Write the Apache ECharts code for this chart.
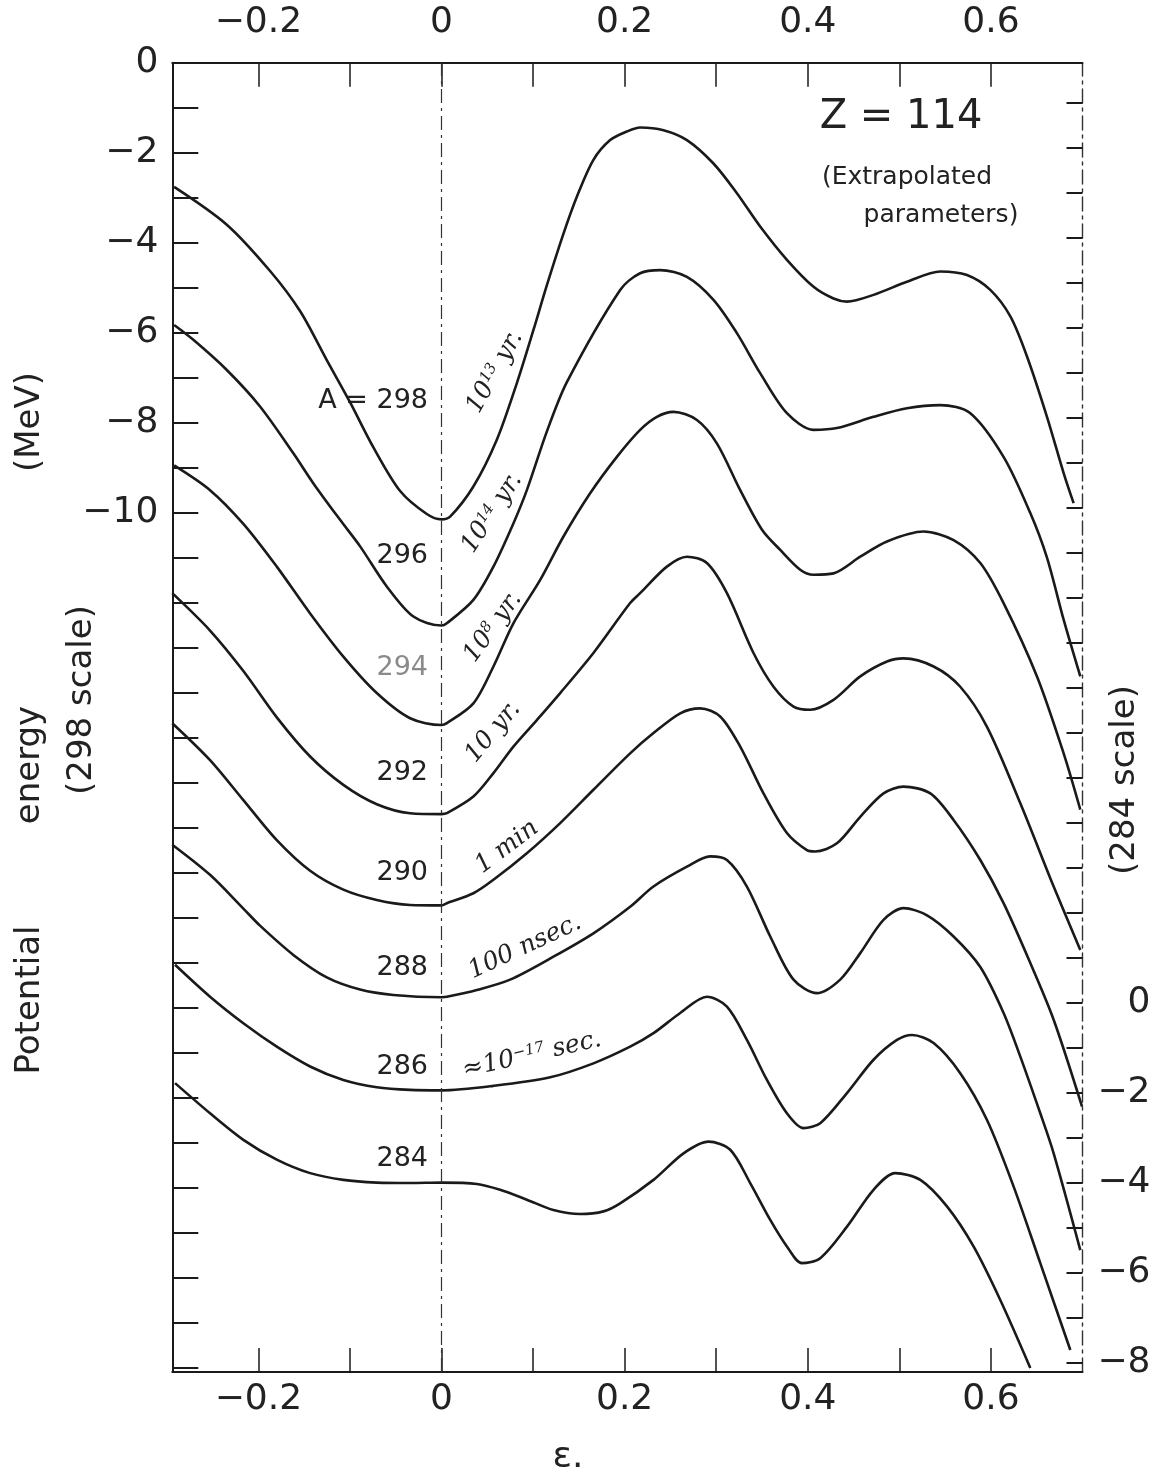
<!DOCTYPE html>
<html>
<head>
<meta charset="utf-8">
<title>Z = 114 potential energy curves</title>
<script src="https://cdn.jsdelivr.net/npm/echarts@6/dist/echarts.min.js"></script>
<style>
html, body { margin: 0; padding: 0; background: #fff; }
#chart { width: 1154px; height: 1476px; }
</style>
</head>
<body>
<div id="chart"></div>
<script>
// [epsilon, potential energy in MeV on the 298 scale]
const curve298 = [[-0.292,-2.76],[-0.2345,-3.60],[-0.1872,-4.63],[-0.1545,-5.52],[-0.1253,-6.61],[-0.0998,-7.55],[-0.0744,-8.55],[-0.0452,-9.52],[-0.0161,-10.03],[0,-10.15],[0.0094,-10.09],[0.0348,-9.42],[0.0604,-8.38],[0.0823,-7.12],[0.1004,-5.94],[0.115,-4.95],[0.1332,-3.80],[0.1478,-2.98],[0.1659,-2.16],[0.1842,-1.72],[0.2024,-1.53],[0.2169,-1.44],[0.2424,-1.50],[0.268,-1.72],[0.297,-2.24],[0.3226,-2.90],[0.348,-3.64],[0.3772,-4.38],[0.4063,-4.98],[0.4281,-5.24],[0.4428,-5.31],[0.4718,-5.16],[0.5083,-4.87],[0.5447,-4.64],[0.5738,-4.72],[0.5993,-5.05],[0.6212,-5.64],[0.6394,-6.53],[0.6612,-7.87],[0.6794,-9.12],[0.6903,-9.79]];
const curve296 = [[-0.292,-5.83],[-0.271,-6.16],[-0.2345,-6.83],[-0.1982,-7.64],[-0.1618,-8.68],[-0.1399,-9.35],[-0.1108,-10.16],[-0.0889,-10.75],[-0.0598,-11.64],[-0.0307,-12.31],[0,-12.51],[0.0058,-12.46],[0.0348,-11.94],[0.0567,-11.20],[0.0785,-10.24],[0.0932,-9.50],[0.115,-8.20],[0.1369,-7.10],[0.1951,-5.05],[0.2169,-4.68],[0.2388,-4.61],[0.268,-4.76],[0.297,-5.27],[0.3226,-6.01],[0.348,-6.90],[0.3772,-7.79],[0.4063,-8.16],[0.4318,-8.12],[0.4718,-7.87],[0.5083,-7.68],[0.5447,-7.61],[0.5775,-7.79],[0.6138,-8.76],[0.643,-10.01],[0.6612,-11.00],[0.6794,-12.38],[0.6976,-13.64]];
const curve294 = [[-0.292,-8.95],[-0.2528,-9.50],[-0.2164,-10.25],[-0.1799,-11.20],[-0.1435,-12.24],[-0.1072,-13.20],[-0.0707,-14.01],[-0.0343,-14.57],[0,-14.72],[0.0058,-14.68],[0.0348,-14.24],[0.0567,-13.42],[0.0785,-12.46],[0.1076,-11.50],[0.1332,-10.53],[0.1623,-9.57],[0.1915,-8.76],[0.2169,-8.16],[0.2352,-7.87],[0.2533,-7.76],[0.2789,-7.94],[0.3007,-8.46],[0.3262,-9.50],[0.35,-10.38],[0.3699,-10.83],[0.3917,-11.27],[0.4063,-11.38],[0.4281,-11.35],[0.4573,-10.98],[0.4865,-10.64],[0.5264,-10.42],[0.5592,-10.61],[0.5884,-11.12],[0.6138,-12.01],[0.6503,-13.64],[0.6794,-15.35],[0.6976,-16.60]];
const curve292 = [[-0.294,-11.79],[-0.2528,-12.62],[-0.2164,-13.52],[-0.1799,-14.55],[-0.1435,-15.42],[-0.1072,-16.05],[-0.0707,-16.48],[-0.0343,-16.68],[0,-16.70],[0.0058,-16.68],[0.0348,-16.31],[0.0567,-15.79],[0.0785,-15.20],[0.1041,-14.61],[0.1296,-14.01],[0.1659,-13.12],[0.206,-12.01],[0.2169,-11.79],[0.2461,-11.20],[0.268,-10.98],[0.2898,-11.12],[0.3117,-11.79],[0.3407,-13.12],[0.3626,-13.87],[0.3844,-14.31],[0.4027,-14.38],[0.4281,-14.16],[0.4573,-13.64],[0.4865,-13.31],[0.5046,-13.24],[0.5374,-13.42],[0.5665,-13.87],[0.5957,-14.76],[0.6321,-16.46],[0.6685,-18.31],[0.6976,-19.72]];
const curve290 = [[-0.294,-14.68],[-0.2528,-15.50],[-0.2164,-16.39],[-0.1799,-17.28],[-0.1435,-17.96],[-0.1072,-18.38],[-0.0707,-18.61],[-0.0343,-18.72],[0,-18.73],[0.0058,-18.68],[0.0348,-18.46],[0.0567,-18.16],[0.0932,-17.57],[0.1296,-16.90],[0.1659,-16.16],[0.206,-15.35],[0.2315,-14.90],[0.2607,-14.46],[0.2825,-14.35],[0.3043,-14.53],[0.3262,-15.20],[0.3516,-16.24],[0.3772,-17.12],[0.399,-17.50],[0.4081,-17.53],[0.4318,-17.35],[0.4573,-16.76],[0.4827,-16.24],[0.5046,-16.09],[0.5338,-16.24],[0.5592,-16.83],[0.5884,-17.72],[0.6138,-18.68],[0.643,-20.01],[0.6685,-21.27],[0.6995,-23.20]];
const curve288 = [[-0.294,-17.38],[-0.2528,-18.05],[-0.2164,-18.80],[-0.1982,-19.18],[-0.1618,-19.83],[-0.1253,-20.33],[-0.0889,-20.60],[-0.0525,-20.72],[0,-20.77],[0.0058,-20.76],[0.0386,-20.61],[0.0749,-20.38],[0.1222,-19.87],[0.1659,-19.35],[0.206,-18.76],[0.2315,-18.31],[0.268,-17.87],[0.2934,-17.64],[0.3117,-17.72],[0.3335,-18.31],[0.359,-19.42],[0.3844,-20.38],[0.41,-20.68],[0.4354,-20.38],[0.4573,-19.79],[0.4827,-19.05],[0.5046,-18.79],[0.5302,-18.95],[0.5592,-19.42],[0.5884,-20.10],[0.6138,-21.12],[0.6321,-22.09],[0.6539,-23.35],[0.6685,-24.24],[0.6976,-26.39]];
const curve286 = [[-0.291,-20.05],[-0.2528,-20.76],[-0.2164,-21.35],[-0.1799,-21.87],[-0.1435,-22.31],[-0.1072,-22.61],[-0.0707,-22.77],[-0.0343,-22.83],[0,-22.84],[0.0567,-22.74],[0.1187,-22.55],[0.1659,-22.24],[0.206,-21.87],[0.2315,-21.57],[0.2607,-21.12],[0.2898,-20.76],[0.3117,-20.98],[0.3335,-21.72],[0.3554,-22.61],[0.3772,-23.35],[0.3953,-23.68],[0.4136,-23.57],[0.4428,-22.90],[0.4718,-22.16],[0.4974,-21.72],[0.5138,-21.61],[0.5374,-21.79],[0.5665,-22.46],[0.5957,-23.50],[0.6248,-24.98],[0.6539,-26.68],[0.6867,-28.61]];
const curve284 = [[-0.291,-22.68],[-0.2528,-23.35],[-0.2164,-23.94],[-0.1799,-24.38],[-0.1435,-24.68],[-0.1072,-24.83],[-0.0707,-24.89],[-0.0343,-24.90],[0,-24.89],[0.0386,-24.92],[0.064,-25.05],[0.0932,-25.27],[0.1222,-25.50],[0.1514,-25.59],[0.1769,-25.53],[0.1951,-25.35],[0.2315,-24.83],[0.2643,-24.24],[0.2916,-23.98],[0.3153,-24.16],[0.3371,-24.90],[0.359,-25.72],[0.3772,-26.31],[0.3936,-26.68],[0.4136,-26.57],[0.4428,-25.87],[0.4718,-25.05],[0.4955,-24.68],[0.5229,-24.83],[0.552,-25.42],[0.581,-26.31],[0.6102,-27.50],[0.643,-29.01]];

const massNumbers = ['A = 298', '296', '294', '292', '290', '288', '286', '284'];
const curves = [curve298, curve296, curve294, curve292, curve290, curve288, curve286, curve284];
const halfLives = ['10{s|13} yr.', '10{s|14} yr.', '10{s|8} yr.', '10 yr.', '1 min', '100 nsec.', '≈10{s|−17} sec.'];

const xTicks = [-0.2, -0.1, 0, 0.1, 0.2, 0.3, 0.4, 0.5, 0.6];
const xLabels = [-0.2, 0, 0.2, 0.4, 0.6];
const leftLabels = [0, -2, -4, -6, -8, -10];
const rightLabels = [0, -2, -4, -6, -8];
const epsMin = -0.294, epsMax = 0.70;
const eMin = -29.1, eMax = 0;
const scaleShift = 20.9;   // 284 scale = 298 scale + shift

const leftTicks = [];
for (let v = 0; v >= -29; v--) leftTicks.push(v);
const rightTicks = [];
for (let v = 20; v >= -8; v--) rightTicks.push(v);

const FONT = 'DejaVu Sans';
const INK = '#1a1a1a';
const fmt = v => (v < 0 ? '\u2212' : '') + Math.abs(v);

const chart = echarts.init(document.getElementById('chart'));

const xAxisBase = {
    type: 'value', min: epsMin, max: epsMax,
    splitLine: { show: false },
    axisLine: { show: true, onZero: false, lineStyle: { color: INK, width: 2 } },
    axisTick: { inside: true, length: 24, customValues: xTicks, lineStyle: { color: INK, width: 1.5 } },
    axisLabel: { customValues: xLabels, formatter: fmt, fontSize: 36, fontFamily: FONT, color: '#222' }
};

const series = curves.map((c, i) => ({
    name: massNumbers[i], type: 'line', data: c,
    xAxisIndex: 0, yAxisIndex: 0,
    showSymbol: false, smooth: 0.3, silent: true,
    lineStyle: { color: INK, width: 2.6 }
}));
series[0].markLine = {
    silent: true, symbol: 'none', label: { show: false },
    lineStyle: { color: '#333', width: 1.2, type: [14, 5, 3, 5] },
    data: [{ xAxis: 0 }]
};

// curve labels just left of epsilon = 0
const labelY = [401, 556, 668, 773, 873, 968, 1067, 1159];
const massText = massNumbers.map((t, i) => ({
    type: 'text', x: 428, y: labelY[i],
    style: { text: t, align: 'right', verticalAlign: 'middle', fontSize: 27, fontFamily: FONT,
        fill: i === 2 ? '#8a8a8a' : '#222' }
}));

// handwritten half-life notes along the rising branches
const lifePos = [[495, 372, 61], [492, 513, 57], [493, 627, 54], [493, 732, 50], [507, 847, 37], [525, 947, 25], [532, 1055, 13]];
const lifeText = halfLives.map((t, i) => ({
    type: 'text', x: lifePos[i][0], y: lifePos[i][1], rotation: lifePos[i][2] * Math.PI / 180,
    style: { text: t, align: 'center', verticalAlign: 'middle', fontSize: 25, fontStyle: 'italic',
        fontFamily: 'DejaVu Serif', fill: '#222',
        rich: { s: { fontSize: 15, fontStyle: 'italic', fontFamily: 'DejaVu Serif', verticalAlign: 'top', lineHeight: 14, fill: '#222' } } }
}));

const titleStyle = { fontSize: 34, fontFamily: FONT, fill: '#222', align: 'center', verticalAlign: 'middle' };

chart.setOption({
    animation: false,
    backgroundColor: '#fff',
    grid: { left: 172.3, right: 71.5, top: 62.7, bottom: 104, containLabel: false, outerBoundsMode: 'none' },
    xAxis: [
        Object.assign({}, xAxisBase, { position: 'bottom', axisLabel: Object.assign({}, xAxisBase.axisLabel, { margin: 10 }) }),
        Object.assign({}, xAxisBase, { position: 'top', axisLabel: Object.assign({}, xAxisBase.axisLabel, { margin: 22 }) })
    ],
    yAxis: [
        {
            type: 'value', position: 'left', min: eMin, max: eMax,
            splitLine: { show: false },
            axisLine: { show: true, onZero: false, lineStyle: { color: INK, width: 2 } },
            axisTick: { inside: true, length: 26, customValues: leftTicks, lineStyle: { color: INK, width: 2 } },
            axisLabel: { customValues: leftLabels, formatter: fmt, margin: 14, fontSize: 36, fontFamily: FONT, color: '#222' }
        },
        {
            type: 'value', position: 'right', min: eMin + scaleShift, max: eMax + scaleShift,
            splitLine: { show: false },
            axisLine: { show: true, onZero: false, lineStyle: { color: '#333', width: 1.4, type: [14, 5, 3, 5] } },
            axisTick: { inside: true, length: 16, customValues: rightTicks, lineStyle: { color: INK, width: 2 } },
            axisLabel: { customValues: rightLabels, formatter: fmt, margin: 68, align: 'right', fontSize: 36, fontFamily: FONT, color: '#222' }
        }
    ],
    series: series,
    graphic: [
        { type: 'text', x: 901, y: 118, style: Object.assign({}, titleStyle, { text: 'Z = 114', fontSize: 40 }) },
        { type: 'text', x: 907, y: 177, style: Object.assign({}, titleStyle, { text: '(Extrapolated', fontSize: 25 }) },
        { type: 'text', x: 941, y: 215, style: Object.assign({}, titleStyle, { text: 'parameters)', fontSize: 25 }) },
        { type: 'text', x: 30, y: 1000, rotation: Math.PI / 2, style: Object.assign({}, titleStyle, { text: 'Potential' }) },
        { type: 'text', x: 30, y: 765, rotation: Math.PI / 2, style: Object.assign({}, titleStyle, { text: 'energy' }) },
        { type: 'text', x: 30, y: 422, rotation: Math.PI / 2, style: Object.assign({}, titleStyle, { text: '(MeV)' }) },
        { type: 'text', x: 82, y: 700, rotation: Math.PI / 2, style: Object.assign({}, titleStyle, { text: '(298 scale)' }) },
        { type: 'text', x: 1125, y: 780, rotation: Math.PI / 2, style: Object.assign({}, titleStyle, { text: '(284 scale)' }) },
        { type: 'text', x: 568, y: 1458, style: Object.assign({}, titleStyle, { text: 'ε.', fontSize: 36 }) }
    ].concat(massText, lifeText)
});
</script>
</body>
</html>
